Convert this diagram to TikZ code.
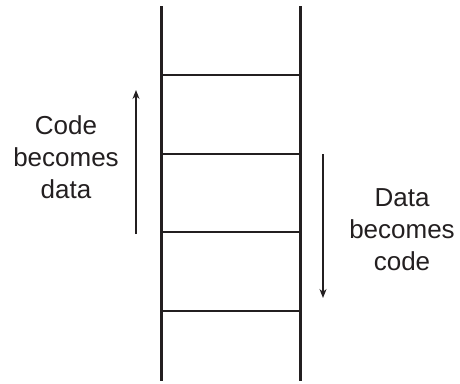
\documentclass[tikz,border=0pt]{standalone}
\usepackage{fontspec}
\setmainfont{Liberation Sans}
\usetikzlibrary{arrows.meta}
\definecolor{ink}{HTML}{231F20}
\begin{document}
\begin{tikzpicture}[x=1pt,y=-1pt,
  rail/.style={draw=ink,line width=3pt},
  rung/.style={draw=ink,line width=2pt},
  flow/.style={draw=ink,line width=1.3pt,-{Stealth[length=9pt,width=7pt]}},
  label/.style={text=ink,align=center,font=\fontsize{26}{32}\selectfont,inner sep=0pt}]
\useasboundingbox (0,0) rectangle (460,383);
\coordinate (lt) at (161,6);
\coordinate (lb) at (161,381);
\coordinate (rt) at (300,6);
\coordinate (rb) at (300,381);
\draw[rail] (lt) -- (lb);
\draw[rail] (rt) -- (rb);
\foreach \y/\n in {75/a,154/b,232/c,311/d}{
  \coordinate (\n1) at (161,\y);
  \coordinate (\n2) at (300,\y);
  \draw[rung] (\n1) -- (\n2);
}
\coordinate (ua) at (136,234);
\coordinate (ub) at (136,90);
\draw[flow] (ua) -- (ub);
\coordinate (da) at (323,154);
\coordinate (db) at (323,298);
\draw[flow] (da) -- (db);
\node[label] (cbd) at (66,157) {Code\\becomes\\data};
\node[label] (dbc) at (402,230) {Data\\becomes\\code};
\end{tikzpicture}
\end{document}
